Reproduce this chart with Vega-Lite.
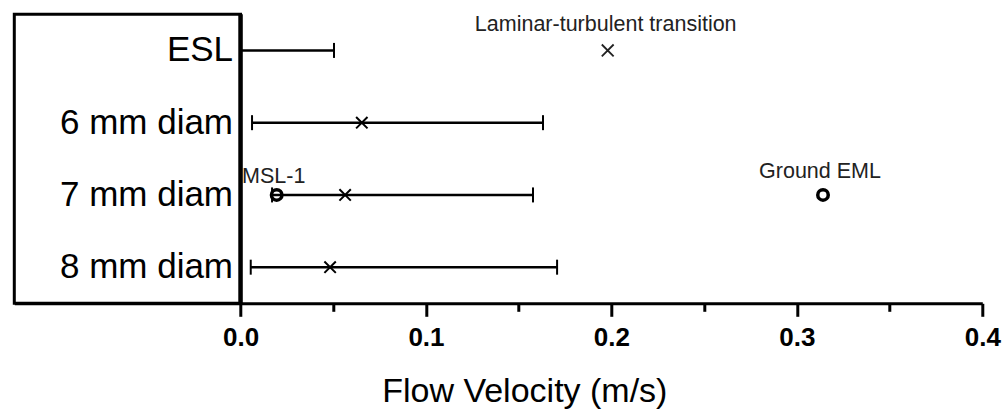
{
  "$schema": "https://vega.github.io/schema/vega-lite/v6.json",
  "autosize": "none",
  "padding": {"left": 14.3, "top": 14.3, "right": 22.7, "bottom": 107.7},
  "width": 968,
  "height": 289,
  "background": "white",
  "config": {"view": {"stroke": null}, "font": "Liberation Sans"},
  "datasets": {
    "rows": [
      {"sample": "ESL", "low": 0.0, "high": 0.0504, "transition": null},
      {"sample": "6 mm diam", "low": 0.0062, "high": 0.1631, "transition": 0.0654},
      {"sample": "7 mm diam", "low": 0.017, "high": 0.1577, "transition": 0.0564},
      {"sample": "8 mm diam", "low": 0.0055, "high": 0.1707, "transition": 0.0483}
    ],
    "notes": [
      {"sample": "ESL", "x": 0.198, "label": "Laminar-turbulent transition", "kind": "cross"},
      {"sample": "7 mm diam", "x": 0.0195, "label": "MSL-1", "kind": "circle"},
      {"sample": "7 mm diam", "x": 0.3141, "label": "Ground EML", "kind": "circle"}
    ]
  },
  "data": {"name": "rows"},
  "encoding": {
    "y": {
      "field": "sample", "type": "nominal",
      "scale": {"type": "band", "domain": ["ESL", "6 mm diam", "7 mm diam", "8 mm diam"], "paddingInner": 0, "paddingOuter": 0},
      "axis": null
    }
  },
  "layer": [
    {
      "data": {"values": [{}]},
      "mark": {"type": "rect", "fillOpacity": 0, "stroke": "black", "strokeWidth": 3},
      "encoding": {
        "y": null,
        "x": {"datum": -0.122, "type": "quantitative",
          "scale": {"domain": [-0.122, 0.4], "nice": false, "zero": false},
          "axis": {
            "values": [0, 0.05, 0.1, 0.15, 0.2, 0.25, 0.3, 0.35, 0.4],
            "labelExpr": "abs(datum.value*10 - round(datum.value*10)) > 0.01 ? '' : format(datum.value, '.1f')",
            "tickSize": {"condition": {"test": "abs(datum.value*10 - round(datum.value*10)) > 0.01", "value": 8}, "value": 13},
            "tickWidth": 3, "tickColor": "black",
            "domainWidth": 3, "domainColor": "black",
            "grid": false,
            "labelFontSize": 26, "labelFontWeight": "bold", "labelColor": "black", "labelPadding": 8,
            "labelFlush": false, "labelOverlap": false,
            "title": "Flow Velocity (m/s)", "titleFontSize": 34, "titleFontWeight": "normal", "titleColor": "black",
            "titlePadding": 24, "titleX": 510, "titleAlign": "center", "titleAnchor": null
          }
        },
        "x2": {"datum": 0}
      }
    },
    {
      "data": {"values": [{}]},
      "mark": {"type": "rule", "color": "black", "strokeWidth": 4.5},
      "encoding": {"y": null, "x": {"datum": 0, "type": "quantitative"}}
    },
    {
      "mark": {"type": "rule", "color": "black", "strokeWidth": 2.5},
      "encoding": {"x": {"field": "low", "type": "quantitative"}, "x2": {"field": "high"}}
    },
    {
      "mark": {"type": "tick", "color": "black", "thickness": 2, "size": 15, "opacity": 1},
      "encoding": {"x": {"field": "low", "type": "quantitative"}}
    },
    {
      "mark": {"type": "tick", "color": "black", "thickness": 2, "size": 15, "opacity": 1},
      "encoding": {"x": {"field": "high", "type": "quantitative"}}
    },
    {
      "transform": [{"filter": "datum.transition != null"}],
      "mark": {"type": "point", "shape": "M-1,-1L1,1M-1,1L1,-1", "filled": false, "color": "black", "strokeWidth": 2, "size": 130, "opacity": 1},
      "encoding": {"x": {"field": "transition", "type": "quantitative"}}
    },
    {
      "mark": {"type": "text", "align": "right", "baseline": "middle", "fontSize": 35, "dx": -7.5, "color": "black"},
      "encoding": {"x": {"datum": 0, "type": "quantitative"}, "text": {"field": "sample"}}
    },
    {
      "data": {"name": "notes"},
      "transform": [{"filter": "datum.kind === 'cross'"}],
      "mark": {"type": "point", "shape": "M-1,-1L1,1M-1,1L1,-1", "filled": false, "color": "#222", "strokeWidth": 1.8, "size": 140, "opacity": 1},
      "encoding": {"x": {"field": "x", "type": "quantitative"}}
    },
    {
      "data": {"name": "notes"},
      "transform": [{"filter": "datum.kind === 'circle'"}],
      "mark": {"type": "point", "shape": "circle", "filled": false, "color": "black", "strokeWidth": 3.5, "size": 110, "opacity": 1},
      "encoding": {"x": {"field": "x", "type": "quantitative"}}
    },
    {
      "data": {"name": "notes"},
      "transform": [{"filter": "datum.label === 'Laminar-turbulent transition'"}],
      "mark": {"type": "text", "align": "center", "baseline": "alphabetic", "fontSize": 21.5, "dy": -19.5, "dx": -2, "color": "#222"},
      "encoding": {"x": {"field": "x", "type": "quantitative"}, "text": {"field": "label"}}
    },
    {
      "data": {"name": "notes"},
      "transform": [{"filter": "datum.label === 'Ground EML'"}],
      "mark": {"type": "text", "align": "center", "baseline": "alphabetic", "fontSize": 21.5, "dy": -16.6, "dx": -3, "color": "#222"},
      "encoding": {"x": {"field": "x", "type": "quantitative"}, "text": {"field": "label"}}
    },
    {
      "data": {"name": "notes"},
      "transform": [{"filter": "datum.label === 'MSL-1'"}],
      "mark": {"type": "text", "align": "center", "baseline": "alphabetic", "fontSize": 21.5, "dy": -11.6, "dx": -3, "color": "#222"},
      "encoding": {"x": {"field": "x", "type": "quantitative"}, "text": {"field": "label"}}
    }
  ]
}
